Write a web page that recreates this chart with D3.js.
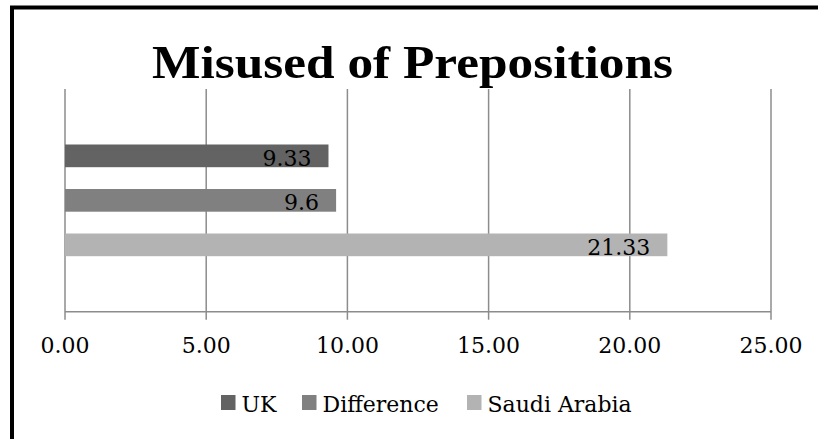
<!DOCTYPE html>
<html>
<head>
<meta charset="utf-8">
<script src="https://cdn.jsdelivr.net/npm/d3@7"></script>
<style>
  body { margin: 0; background: #fff; }
  svg { display: block; }
</style>
</head>
<body>
<script>
'use strict';

// chart data
const seriesNames = ["UK", "Difference", "Saudi Arabia"];
const seriesValues = [9.33, 9.6, 21.33];
const valueLabels = ["9.33", "9.6", "21.33"];
const seriesColors = ["#636363", "#808080", "#b3b3b3"];
const xTicks = [0, 5, 10, 15, 20, 25];

const width = 818, height = 439;
const plot = { left: 65, right: 771, top: 89, bottom: 311.7 };
const serif = "'DejaVu Serif', serif";

const svg = d3.select("body").append("svg")
  .attr("width", width)
  .attr("height", height);

// outer frame (only top and left edges fall inside the picture)
svg.append("rect")
  .attr("x", 12).attr("y", 7.5)
  .attr("width", 900).attr("height", 600)
  .attr("fill", "none")
  .attr("stroke", "#000")
  .attr("stroke-width", 4);

const x = d3.scaleLinear()
  .domain([0, 25])
  .range([plot.left, plot.right]);

const y = d3.scaleBand()
  .domain(seriesNames)
  .range([plot.top, plot.bottom])
  .paddingInner(0.49)
  .paddingOuter(1.247);

// vertical gridlines
svg.append("g")
  .selectAll("line")
  .data(xTicks)
  .enter()
  .append("line")
  .attr("x1", d => x(d)).attr("x2", d => x(d))
  .attr("y1", plot.top).attr("y2", plot.bottom + 8)
  .attr("stroke", "#8c8c8c")
  .attr("stroke-width", 1.5);

// bottom axis line
svg.append("line")
  .attr("x1", plot.left).attr("x2", plot.right)
  .attr("y1", plot.bottom).attr("y2", plot.bottom)
  .attr("stroke", "#8c8c8c")
  .attr("stroke-width", 1.5);

// tick labels
svg.append("g")
  .selectAll("text")
  .data(xTicks)
  .enter()
  .append("text")
  .attr("x", d => x(d))
  .attr("y", 353)
  .attr("text-anchor", "middle")
  .style("font-family", serif)
  .style("font-size", "22px")
  .style("fill", "#000")
  .text(d => d3.format(".2f")(d));

// bars
svg.append("g")
  .selectAll("rect")
  .data(seriesNames)
  .enter()
  .append("rect")
  .attr("x", x(0))
  .attr("y", d => y(d))
  .attr("width", (d, i) => x(seriesValues[i]) - x(0))
  .attr("height", y.bandwidth())
  .attr("fill", (d, i) => seriesColors[i]);

// value labels, inside end of bar
svg.append("g")
  .selectAll("text")
  .data(seriesNames)
  .enter()
  .append("text")
  .attr("x", (d, i) => x(seriesValues[i]) - 17)
  .attr("y", d => y(d) + y.bandwidth() - 1.5)
  .attr("text-anchor", "end")
  .style("font-family", serif)
  .style("font-size", "22px")
  .style("fill", "#000")
  .text((d, i) => valueLabels[i]);

// title
svg.append("text")
  .attr("x", 152)
  .attr("y", 78.3)
  .attr("textLength", 521)
  .attr("lengthAdjust", "spacingAndGlyphs")
  .style("font-family", "'Liberation Serif', serif")
  .style("font-weight", "bold")
  .style("font-size", "45.5px")
  .style("fill", "#000")
  .text("Misused of Prepositions");

// legend
const legendX = [221, 302, 467];
const legend = svg.append("g")
  .selectAll("g")
  .data(seriesNames)
  .enter()
  .append("g")
  .attr("transform", (d, i) => "translate(" + legendX[i] + ",395)");

legend.append("rect")
  .attr("width", 14.5)
  .attr("height", 15)
  .attr("fill", (d, i) => seriesColors[i]);

legend.append("text")
  .attr("x", 20.5)
  .attr("y", 16.7)
  .style("font-family", serif)
  .style("font-size", "22px")
  .style("fill", "#000")
  .text(d => d);
</script>
</body>
</html>
